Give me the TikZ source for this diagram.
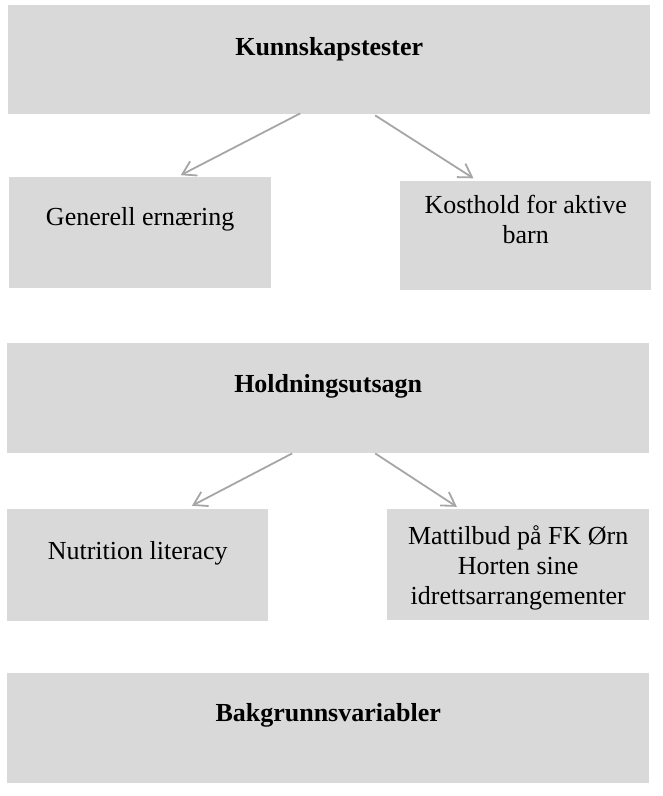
\documentclass[tikz,border=0pt]{standalone}
\usepackage{fontspec}
\setmainfont{Liberation Serif}
\usetikzlibrary{arrows.meta}
\definecolor{boxgray}{HTML}{D9D9D9}
\definecolor{arrgray}{HTML}{A6A6A6}
\tikzset{
  box/.style={fill=boxgray, draw=none, inner sep=0pt, anchor=north west},
  txt/.style={inner sep=0pt, font=\fontsize{26}{30}\selectfont},
  hdr/.style={txt, font=\fontsize{26}{30}\selectfont\bfseries},
  arr/.style={draw=arrgray, line width=1.8pt, -{Straight Barb[length=13pt,width=16pt]}}
}
\begin{document}
\begin{tikzpicture}[x=1pt,y=-1pt]
\useasboundingbox (0,0) rectangle (663,796);
% boxes
\node[box, minimum width=642pt, minimum height=109pt] (k) at (8,5) {};
\node[box, minimum width=262pt, minimum height=111pt] (g) at (9,177) {};
\node[box, minimum width=251pt, minimum height=109pt] (a) at (400,181) {};
\node[box, minimum width=642pt, minimum height=110pt] (h) at (7,343) {};
\node[box, minimum width=261pt, minimum height=112pt] (n) at (7,509) {};
\node[box, minimum width=262pt, minimum height=111pt] (m) at (387,509) {};
\node[box, minimum width=642pt, minimum height=110pt] (b) at (7,673) {};
% texts
\node[hdr, anchor=base] (kt) at (k.north |- 0,55) {Kunnskapstester};
\node[txt, anchor=base] (gt) at (g.north |- 0,225) {Generell ernæring};
\node[txt, anchor=north, align=center] (at) at (a.north |- 0,195) {Kosthold for aktive\\barn};
\node[hdr, anchor=base] (ht) at (h.north |- 0,392) {Holdningsutsagn};
\node[txt, anchor=base] (nt) at (n.north |- 0,559) {Nutrition literacy};
\node[txt, anchor=north, align=center] (mt) at (m.north |- 0,525) {Mattilbud på FK Ørn\\Horten sine\\idrettsarrangementer};
\node[hdr, anchor=base] (bt) at (b.north |- 0,721) {Bakgrunnsvariabler};
% arrows
\draw[arr, shorten >=4pt] ([xshift=-29pt,yshift=1pt]k.south) -- ([xshift=37pt]g.north);
\draw[arr, shorten >=5pt] ([xshift=46pt,yshift=-1pt]k.south) -- ([xshift=-48pt]a.north);
\draw[arr, shorten >=7pt] ([xshift=-36pt]h.south) -- ([xshift=48pt]n.north);
\draw[arr, shorten >=4pt] ([xshift=47pt]h.south) -- ([xshift=-58pt]m.north);
\end{tikzpicture}
\end{document}
